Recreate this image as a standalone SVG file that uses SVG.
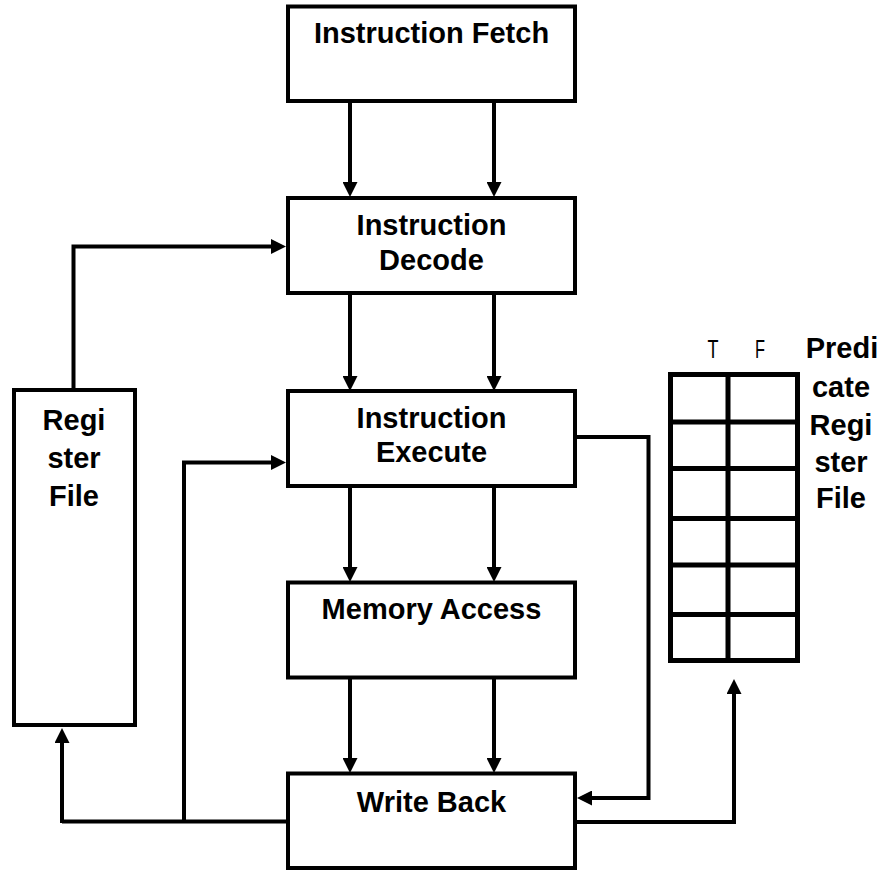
<svg xmlns="http://www.w3.org/2000/svg" width="883" height="870" viewBox="0 0 883 870">
  <style>
    .box { fill: #fff; stroke: #000; stroke-width: 4; }
    .lbl { font-family: "Liberation Sans", Arial, sans-serif; font-weight: bold; font-size: 29px; fill: #000; text-anchor: middle; }
    .col { font-family: "Liberation Sans", Arial, sans-serif; font-size: 25px; fill: #000; text-anchor: middle; }
    .wire { fill: none; stroke: #000; stroke-width: 4; }
    .wire-a { fill: none; stroke: #000; stroke-width: 4; marker-end: url(#head); }
    .grid { fill: none; stroke: #000; stroke-width: 5; }
  </style>
  <defs>
    <marker id="head" markerUnits="userSpaceOnUse" viewBox="0 0 15 15" refX="3" refY="7.5" markerWidth="15" markerHeight="15" orient="auto">
      <path d="M0,0 L15,7.5 L0,15 Z" fill="#000"/>
    </marker>
  </defs>

  <rect width="883" height="870" fill="#fff"/>

  <!-- connectors -->
  <g id="connectors">
    <!-- pipeline stage to stage -->
    <path class="wire-a" d="M350,101 V185"/>
    <path class="wire-a" d="M494,101 V185"/>
    <path class="wire-a" d="M350,293 V379"/>
    <path class="wire-a" d="M494,293 V379"/>
    <path class="wire-a" d="M350,486 V570"/>
    <path class="wire-a" d="M494,486 V570"/>
    <path class="wire-a" d="M350,677 V761"/>
    <path class="wire-a" d="M494,677 V761"/>
    <!-- register file read into decode -->
    <path class="wire-a" d="M73.5,390 V246.5 H274"/>
    <!-- write back forwarding into execute -->
    <path class="wire-a" d="M184,822 V462.5 H274"/>
    <!-- write back into register file -->
    <path class="wire" d="M288,821.5 H62"/>
    <path class="wire-a" d="M62,823 V740"/>
    <!-- execute to write back -->
    <path class="wire-a" d="M575,437 H648.5 V798 H589"/>
    <!-- write back into predicate register file -->
    <path class="wire-a" d="M575,822 H734 V691"/>
  </g>

  <g id="if">
    <rect class="box" x="288" y="6.5" width="287" height="94.5"/>
    <text class="lbl" x="431.5" y="43">Instruction Fetch</text>
  </g>

  <g id="id">
    <rect class="box" x="288" y="198" width="287" height="95"/>
    <text class="lbl" x="431.5" y="235">Instruction</text>
    <text class="lbl" x="431.5" y="270">Decode</text>
  </g>

  <g id="ex">
    <rect class="box" x="288" y="391" width="287" height="95"/>
    <text class="lbl" x="431.5" y="428">Instruction</text>
    <text class="lbl" x="431.5" y="462">Execute</text>
  </g>

  <g id="mem">
    <rect class="box" x="288" y="582.5" width="287" height="95"/>
    <text class="lbl" x="431.5" y="619">Memory Access</text>
  </g>

  <g id="wb">
    <rect class="box" x="288" y="773.5" width="287" height="94.5"/>
    <text class="lbl" x="431.5" y="812">Write Back</text>
  </g>

  <g id="regfile">
    <rect class="box" x="14" y="390" width="121" height="335"/>
    <text class="lbl" x="74" y="430">Regi</text>
    <text class="lbl" x="74" y="468">ster</text>
    <text class="lbl" x="74" y="506">File</text>
  </g>

  <g id="predfile">
    <rect class="grid" x="670.5" y="374.5" width="127" height="286"/>
    <path class="grid" d="M728,374.5 V660.5 M670.5,422 H797.5 M670.5,468.5 H797.5 M670.5,518.5 H797.5 M670.5,565 H797.5 M670.5,614.5 H797.5"/>
    <text class="col" x="713" y="358" textLength="11" lengthAdjust="spacingAndGlyphs">T</text>
    <text class="col" x="760" y="358" textLength="10" lengthAdjust="spacingAndGlyphs">F</text>
    <text class="lbl" x="842" y="358">Predi</text>
    <text class="lbl" x="841" y="397">cate</text>
    <text class="lbl" x="841" y="435">Regi</text>
    <text class="lbl" x="841" y="472">ster</text>
    <text class="lbl" x="841" y="508">File</text>
  </g>
</svg>
